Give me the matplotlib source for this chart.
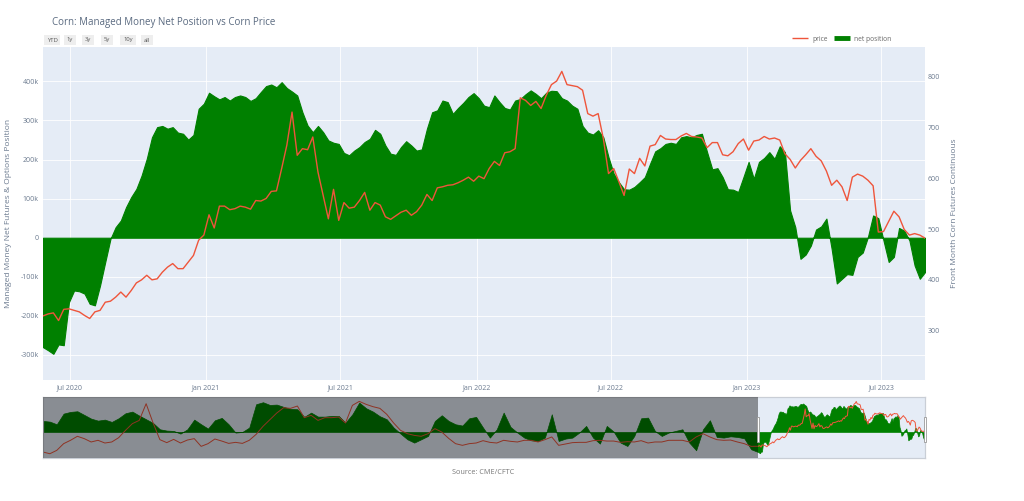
import matplotlib
matplotlib.use("Agg")
import matplotlib.pyplot as plt
import matplotlib.dates as mdates
from matplotlib.lines import Line2D
from matplotlib.patches import Rectangle
from matplotlib.ticker import FuncFormatter, FixedLocator
import pandas as pd

plt.rcParams["font.family"] = ["Open Sans", "DejaVu Sans"]

# weekly COT dates shown in the main window
dates = pd.date_range("2020-05-26", "2023-08-29", freq="7D")

# managed money net position (thousand contracts)
net_k = [
    -280, -288, -297, -273, -275, -165, -135, -137, -143, -169, -173, -122, -62, -3, 27, 44,
    78, 104, 125, 159, 202, 257, 283, 286, 279, 283, 269, 266, 251, 263, 330, 343,
    371, 362, 354, 360, 351, 360, 364, 360, 350, 357, 373, 388, 392, 385, 398, 383,
    374, 364, 321, 287, 270, 286, 270, 249, 243, 240, 217, 211, 223, 232, 245, 253,
    276, 266, 236, 215, 212, 232, 247, 236, 223, 226, 279, 321, 326, 351, 347, 317,
    332, 345, 360, 370, 357, 338, 334, 364, 347, 332, 328, 351, 355, 367, 377, 368,
    357, 371, 376, 375, 357, 351, 338, 330, 286, 269, 264, 275, 257, 206, 164, 142,
    124, 123, 130, 142, 155, 189, 221, 229, 240, 243, 240, 257, 260, 257, 263, 266,
    219, 175, 178, 155, 124, 123, 117, 155, 194, 151, 194, 204, 219, 202, 234, 219,
    70, 27, -54, -43, -20, 21, 29, 49, -28, -117, -105, -93, -95, -49, -38, 2,
    57, 50, -7, -62, -49, 25, 18, -7, -71, -105, -88,
]

# front month corn futures (cents/bu)
price = [
    329, 333, 335, 320, 342, 343, 340, 337, 330, 324, 337, 340, 356, 358, 366, 376,
    366, 379, 394, 400, 409, 400, 402, 415, 425, 432, 422, 422, 435, 448, 478, 488,
    528, 502, 545, 545, 538, 540, 545, 543, 539, 556, 555, 560, 574, 575, 619, 665,
    730, 645, 658, 656, 681, 612, 566, 520, 578, 517, 552, 541, 543, 556, 572, 537,
    552, 547, 524, 519, 526, 533, 537, 527, 534, 547, 568, 556, 581, 583, 586, 587,
    591, 596, 602, 594, 604, 599, 619, 633, 625, 650, 652, 658, 758, 753, 743, 751,
    737, 763, 784, 791, 810, 784, 782, 780, 773, 727, 722, 727, 678, 609, 619, 593,
    566, 618, 609, 639, 624, 663, 666, 684, 677, 676, 676, 683, 688, 682, 681, 679,
    660, 670, 670, 646, 644, 652, 668, 677, 655, 673, 675, 682, 677, 679, 675, 648,
    637, 620, 635, 646, 658, 643, 634, 614, 586, 596, 583, 556, 602, 608, 604, 596,
    585, 494, 495, 515, 535, 524, 499, 488, 491, 488, 482,
]

# longer history seen only in the range slider (every 7 weeks)
hist_dates = pd.date_range("2006-06-13", periods=104, freq="49D")
hist_net_k = [
    154, 144, 107, 256, 280, 289, 238, 186, 158, 172, 140, 191, 261, 284, 228, 177,
    126, 37, 19, 14, -23, 37, 172, 107, 47, 163, 196, 107, -9, 0, 61, 387,
    415, 377, 382, 350, 322, 317, 210, 270, 214, 214, 224, 224, 130, 247, 410, 331,
    284, 219, 177, 61, -23, -103, -149, -103, -56, 154, 233, 154, 107, 89, 191, 210,
    61, -79, 37, 270, 70, -9, -79, -117, -126, -79, 247, -126, -93, -79, -9, 84,
    -79, -163, 84, 5, -149, -196, -56, 191, 200, 14, -56, -9, 14, 37, -149, -256,
    37, 163, -70, -79, -61, -70, -89, -242,
]
hist_price = [
    267, 249, 285, 357, 393, 436, 411, 375, 393, 364, 375, 421, 500, 572, 607, 786,
    582, 400, 368, 403, 364, 396, 411, 328, 357, 407, 385, 360, 371, 360, 393, 457,
    543, 615, 686, 743, 736, 761, 636, 661, 607, 636, 636, 643, 579, 768, 811, 779,
    754, 736, 672, 579, 500, 464, 446, 436, 464, 518, 482, 414, 357, 339, 357, 364,
    389, 371, 364, 393, 382, 375, 393, 393, 375, 400, 429, 339, 353, 368, 371, 371,
    389, 393, 385, 385, 371, 378, 375, 389, 364, 375, 375, 393, 393, 393, 375, 429,
    464, 429, 400, 393, 396, 375, 357, 328,
]

net_lim = (-364, 488)
price_lim = (203, 858)

BG = "#E5ECF6"
GREEN = "#008000"
RED = "#EF553B"
TXT = "#6b7a8f"

fig = plt.figure(figsize=(10.24, 5.01), dpi=100)
W, H = 1024, 501


def frame(l, t, r, b):
    return [l / W, 1 - b / H, (r - l) / W, (b - t) / H]


# ---- main chart
ax = fig.add_axes(frame(43, 47, 925, 380))
ax.set_facecolor(BG)
ax.fill_between(dates, net_k, 0, color=GREEN, linewidth=0.8, edgecolor=GREEN, zorder=2)
ax.set_ylim(*net_lim)
ax.set_xlim(dates[0], dates[-1])
ax.yaxis.set_major_locator(FixedLocator(range(-300, 401, 100)))
ax.yaxis.set_major_formatter(FuncFormatter(lambda v, p: "0" if v == 0 else f"{int(v)}k"))
ax.xaxis.set_major_locator(mdates.MonthLocator(bymonth=[1, 7]))
ax.xaxis.set_major_formatter(mdates.DateFormatter("%b %Y"))
ax.grid(True, color="white", linewidth=0.6, zorder=0)
ax.set_axisbelow(True)
ax.tick_params(length=0, labelsize=5, colors=TXT, pad=3)
for s in ax.spines.values():
    s.set_visible(False)
ax.set_ylabel("Managed Money Net Futures & Options Position", fontsize=6, color=TXT, labelpad=6)

ax2 = ax.twinx()
ax2.plot(dates, price, color=RED, linewidth=1.0, zorder=3)
ax2.set_ylim(*price_lim)
ax2.yaxis.set_major_locator(FixedLocator(range(300, 801, 100)))
ax2.tick_params(length=0, labelsize=5, colors=TXT, pad=2)
for s in ax2.spines.values():
    s.set_visible(False)
ax2.set_ylabel("Front Month Corn Futures Continuous", fontsize=6, color=TXT, labelpad=8)

# ---- range slider with full history
all_dates = list(hist_dates) + list(dates)
all_net = hist_net_k + net_k
all_price = hist_price + price

sl = fig.add_axes(frame(43, 397, 925, 458))
sl.set_facecolor(BG)
sl.fill_between(all_dates, all_net, 0, color=GREEN, linewidth=0.5, edgecolor=GREEN)
sl.set_ylim(*net_lim)
sl.set_xlim(all_dates[0], all_dates[-1])
sl.set_xticks([])
sl.set_yticks([])
sl2 = sl.twinx()
sl2.plot(all_dates, all_price, color=RED, linewidth=0.7)
sl2.set_ylim(*price_lim)
sl2.set_yticks([])
for a in (sl, sl2):
    for s in a.spines.values():
        s.set_color("#c9ced6")
        s.set_linewidth(0.8)
sl2.axvspan(all_dates[0], dates[0], color="black", alpha=0.4, linewidth=0, zorder=5)
for d in (dates[0], dates[-1]):
    sl2.add_patch(Rectangle((mdates.date2num(d) - 10, 370), 20, 270, facecolor="white",
                            edgecolor="#999999", linewidth=0.6, zorder=6, clip_on=False))

# ---- title, range buttons, legend, source
fig.text(52 / W, 1 - 22 / H, "Corn: Managed Money Net Position vs Corn Price",
         fontsize=7, color="#5a6a80", va="center", ha="left")
btn_x = [52, 70, 88, 107, 128, 147]
for x, lab in zip(btn_x, ["YTD", "1y", "3y", "5y", "10y", "all"]):
    fig.text(x / W, 1 - 40 / H, lab, fontsize=4.2, color="#555555", ha="center", va="center",
             bbox=dict(boxstyle="square,pad=0.5", facecolor="#eeeeee", edgecolor="none"))

handles = [Line2D([0], [0], color=RED, lw=1.0, solid_capstyle="butt"),
           Line2D([0], [0], color=GREEN, lw=3.5, solid_capstyle="butt")]
fig.legend(handles, ["price", "net position"], loc="center left",
           bbox_to_anchor=(786 / W, 1 - 39 / H), ncol=2, frameon=False, fontsize=4.8,
           handlelength=2.4, handletextpad=0.6, columnspacing=1.0, labelcolor="#666666")

fig.text(483 / W, 1 - 472 / H, "Source: CME/CFTC", fontsize=5.2, color="#777777",
         ha="center", va="center")

fig.savefig("out.png", dpi=100, facecolor="white")
